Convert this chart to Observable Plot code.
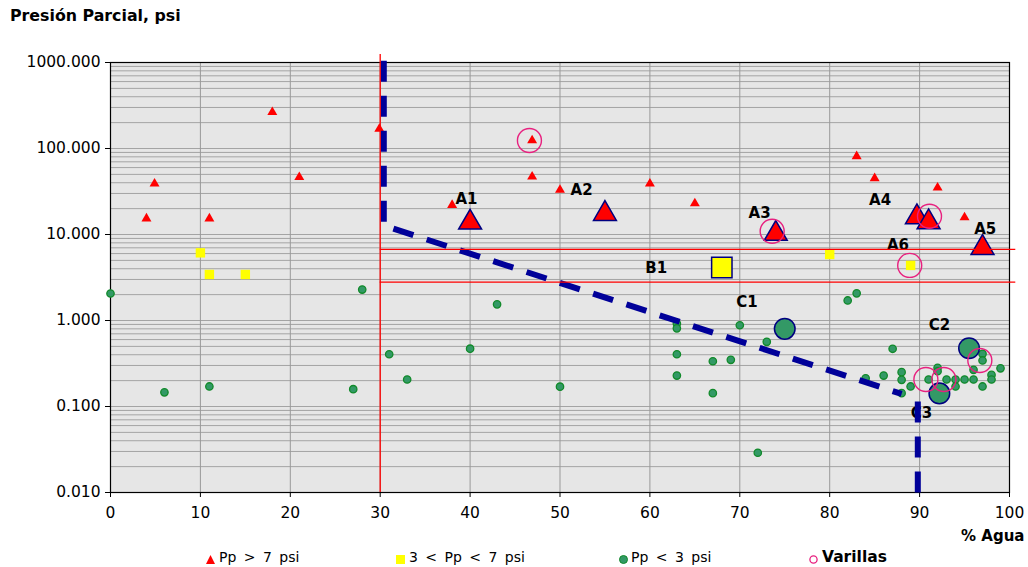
<!DOCTYPE html>
<html>
<head>
<meta charset="utf-8">
<script src="https://cdn.jsdelivr.net/npm/d3@7"></script>
<script src="https://cdn.jsdelivr.net/npm/@observablehq/plot@0.6"></script>
<style>
  html, body { margin: 0; padding: 0; background: #fff; }
  #wrap { position: relative; width: 1028px; height: 567px; font-family: "DejaVu Sans", Verdana, sans-serif; color: #000; }
  #title { position: absolute; left: 10px; top: 6px; line-height: 20px; font-size: 15.8px; font-weight: bold; }
  #chart { position: absolute; left: 0; top: 30px; }
  #legend { position: absolute; left: 0; top: 548px; width: 1028px; height: 19px; font-size: 14px; }
  #legend .sym { position: absolute; top: 4px; width: 11px; height: 11px; }
  #legend .lab { position: absolute; top: 0; line-height: 19px; white-space: pre; word-spacing: 3px; }
</style>
</head>
<body>
<div id="wrap">
  <div id="title">Presión Parcial, psi</div>
  <div id="chart"></div>
  <div id="legend"></div>
</div>
<script>
// ---------- Data ----------
const xTicks = [0, 10, 20, 30, 40, 50, 60, 70, 80, 90, 100];
const yTicks = [0.01, 0.1, 1, 10, 100, 1000];

// Pp > 7 psi (small red triangles)
const redX = [4, 4.9, 11, 18, 21, 29.9, 38, 46.9, 46.9, 50, 60, 65, 83, 85, 92, 95];
const redY = [15.3, 39, 15.3, 264, 46.4, 169, 22, 124, 47, 33, 39, 23, 81, 45, 35, 15.8];
// Highlighted wells A1..A5 (large red triangles)
const bigRedX = [40, 55, 74, 89.7, 91, 97];
const bigRedY = [13.8, 17.4, 10.2, 15.9, 13.9, 7.0];

// 3 < Pp < 7 psi (small yellow squares)
const yelX = [10, 11, 15, 80, 89];
const yelY = [6.12, 3.43, 3.43, 5.85, 4.37];
// B1
const bigYelX = [68];
const bigYelY = [4.13];

// Pp < 3 psi (small green circles)
const grnX = [0, 6, 11, 27, 28, 31, 33, 40, 43, 50, 63, 63, 63, 63, 67, 67, 69, 70, 73, 72,
              82, 83, 84, 86, 87, 88, 88, 88, 89, 91, 92, 92, 93, 94, 94, 95, 96, 96, 97, 97, 97, 98, 98, 99];
const grnY = [2.06, 0.146, 0.171, 0.159, 2.29, 0.405, 0.206, 0.47, 1.54, 0.17, 0.92, 0.81, 0.405, 0.229, 0.336, 0.143, 0.349, 0.88, 0.565, 0.029,
              1.71, 2.07, 0.213, 0.229, 0.469, 0.251, 0.204, 0.143, 0.171, 0.206, 0.282, 0.257, 0.206, 0.206, 0.171, 0.206, 0.206, 0.267, 0.41, 0.343, 0.171, 0.233, 0.206, 0.278];
// C1..C3
const bigGrnX = [75, 95.5, 92.2];
const bigGrnY = [0.8, 0.476, 0.142];

// Varillas (open pink circles)
const varX = [46.6, 73.6, 91.1, 88.9, 90.7, 92.7, 96.7];
const varY = [124, 10.9, 16.3, 4.37, 0.206, 0.206, 0.343];

// Point labels (positions in data units)
const labelText = ["A1", "A2", "A3", "A4", "A5", "A6", "B1", "C1", "C2", "C3"];
const labelX = [39.6, 52.4, 72.2, 85.6, 97.3, 87.6, 60.7, 70.8, 92.2, 90.2];
const labelY = [25.5, 33, 17.5, 24.8, 11.4, 7.45, 4.03, 1.62, 0.875, 0.083];

// Limit lines
const limitX = [30];
const limitY = [6.7, 2.8];

// Dashed boundary lines
const bound1X = [30.4, 30.4, 88];
const bound1Y = [1050, 12.7, 0.14];
const bound2X = [89.8, 89.8];
const bound2Y = [0.01, 0.127];

// ---------- Build ----------
const pts = (xs, ys) => xs.map((x, i) => ({x, y: ys[i]}));
const minorY = yTicks.slice(0, -1).flatMap(d => [1, 2, 3, 4, 5, 6, 7, 8, 9].map(k => k * d)).filter(v => v > 0.01);
const vGrid = xTicks.filter(v => v > 0 && v < 100);
const labels = labelText.map((t, i) => ({t, x: labelX[i], y: labelY[i]}));

const RED = "#ff0000", YEL = "#ffff00", GRNF = "#339966", GRNS = "#118a2a", NAVY = "#000080", PINK = "#e8207f", DASH = "#000099";

const chart = Plot.plot({
  width: 1028,
  height: 518,
  marginTop: 32,
  marginBottom: 56,
  marginLeft: 110,
  marginRight: 19,
  style: { fontFamily: "DejaVu Sans, Verdana, sans-serif", fontSize: "15.5px", background: "white", color: "black", overflow: "visible" },
  x: { domain: [0, 100], ticks: xTicks, tickSize: 5, tickPadding: 9, label: null },
  y: { type: "log", domain: [0.01, 1000], ticks: yTicks, tickFormat: d3.format(".3f"), tickSize: 5, tickPadding: 5, label: null },
  marks: [
    Plot.frame({ fill: "#e6e6e6", stroke: "none" }),
    Plot.ruleY(minorY, { stroke: "#a4a4a4", strokeWidth: 1 }),
    Plot.ruleX(vGrid, { stroke: "#999999", strokeWidth: 1 }),
    Plot.frame({ stroke: "black", strokeWidth: 1.2 }),
    // small points
    Plot.dot(pts(redX, redY), { x: "x", y: "y", symbol: "triangle", r: 3.7, fill: RED, stroke: "none" }),
    Plot.dot(pts(yelX, yelY), { x: "x", y: "y", symbol: "square", r: 5.3, fill: YEL, stroke: "none" }),
    Plot.dot(pts(grnX, grnY), { x: "x", y: "y", symbol: "circle", r: 3.7, fill: GRNF, stroke: GRNS, strokeWidth: 1.3 }),
    // highlighted points
    Plot.dot(pts(bigRedX, bigRedY), { x: "x", y: "y", symbol: "triangle", r: 8.5, fill: RED, stroke: NAVY, strokeWidth: 1.5 }),
    Plot.dot(pts(bigYelX, bigYelY), { x: "x", y: "y", symbol: "square", r: 11.5, fill: YEL, stroke: NAVY, strokeWidth: 1.5 }),
    Plot.dot(pts(bigGrnX, bigGrnY), { x: "x", y: "y", symbol: "circle", r: 10.3, fill: GRNF, stroke: NAVY, strokeWidth: 1.5 }),
    // varillas
    Plot.dot(pts(varX, varY), { x: "x", y: "y", symbol: "circle", r: 12, fill: "none", stroke: PINK, strokeWidth: 1.4 }),
    // labels
    Plot.text(labels, { x: "x", y: "y", text: "t", fontWeight: "bold", fontSize: 15, fill: "black" }),
    // dashed boundaries
    Plot.line(pts(bound1X, bound1Y), { x: "x", y: "y", stroke: DASH, strokeWidth: 6, strokeDasharray: "21,14", strokeLinecap: "butt", strokeLinejoin: "miter" }),
    Plot.line(pts(bound2X, bound2Y), { x: "x", y: "y", stroke: DASH, strokeWidth: 6, strokeDasharray: "21,14", strokeLinecap: "butt" }),
    // limit lines
    Plot.ruleX(limitX, { y1: 0.01, y2: 1240, stroke: RED, strokeWidth: 1.3 }),
    Plot.ruleY(limitY, { x1: 30, x2: 100.7, stroke: RED, strokeWidth: 1.3 }),
    // x axis title
    Plot.text(["% Agua"], { frameAnchor: "bottom-right", text: d => d, dx: 15, dy: 48, textAnchor: "end", fontWeight: "bold", fontSize: 15, fill: "black" })
  ]
});
document.getElementById("chart").appendChild(chart);

// ---------- Legend ----------
const legendItems = [
  { sym: "triangle", color: RED, text: "Pp > 7 psi", symX: 205, textX: 219, bold: false },
  { sym: "square", color: YEL, text: "3 < Pp < 7 psi", symX: 395, textX: 409, bold: false },
  { sym: "circle", color: GRNF, text: "Pp < 3 psi", symX: 618, textX: 631, bold: false },
  { sym: "ring", color: PINK, text: "Varillas", symX: 808, textX: 822, bold: true }
];
const legend = document.getElementById("legend");
for (const it of legendItems) {
  let shape;
  if (it.sym === "triangle") shape = `<path d="M5.5 1 L10 10 L1 10 Z" fill="${it.color}"/>`;
  else if (it.sym === "square") shape = `<rect x="1" y="1" width="9" height="9" fill="${it.color}"/>`;
  else if (it.sym === "circle") shape = `<circle cx="5.5" cy="5.5" r="4" fill="${it.color}" stroke="${GRNS}" stroke-width="1"/>`;
  else shape = `<circle cx="5.5" cy="5.5" r="3.6" fill="none" stroke="${it.color}" stroke-width="1.3"/>`;
  const s = document.createElement("span");
  s.className = "sym";
  s.style.left = it.symX + "px";
  s.innerHTML = `<svg width="11" height="11" viewBox="0 0 11 11">${shape}</svg>`;
  legend.appendChild(s);
  const t = document.createElement("span");
  t.className = "lab";
  t.style.left = it.textX + "px";
  if (it.bold) { t.style.fontWeight = "bold"; t.style.fontSize = "15.5px"; }
  t.textContent = it.text;
  legend.appendChild(t);
}
</script>
</body>
</html>
